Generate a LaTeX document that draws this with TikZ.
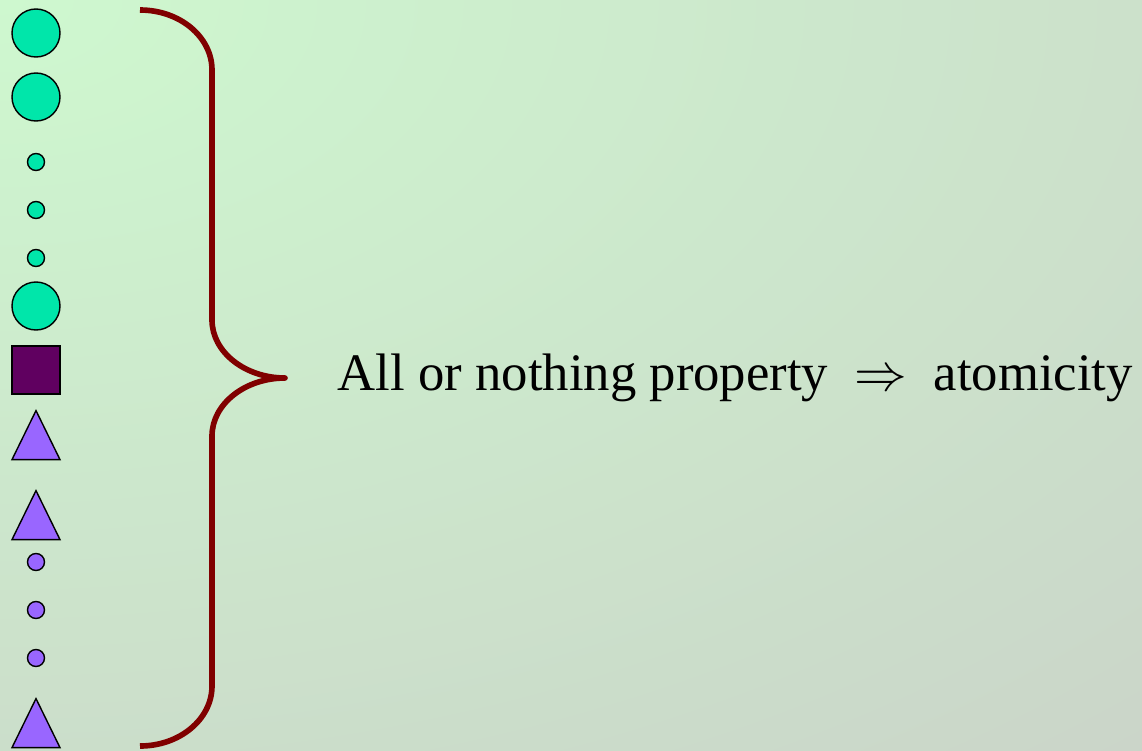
\RequirePackage{fix-cm}
\documentclass[tikz,border=0pt]{standalone}
\usepackage{fontspec}
\setmainfont{Liberation Serif}
\usetikzlibrary{positioning,shapes.geometric}
\definecolor{BgGreen}{HTML}{CEF8CF}
\definecolor{BgGrey}{HTML}{CAD0C8}
\definecolor{DotTeal}{HTML}{00E6AA}
\definecolor{BoxPlum}{HTML}{600060}
\definecolor{TriViolet}{HTML}{9966FF}
\definecolor{BraceRed}{HTML}{800000}

\begin{document}
\begin{tikzpicture}[
    x=0.2mm,y=-0.2mm,
    every node/.style={
      draw=black,
      line width=0.8pt,
      inner sep=0pt
    },
    bigdot/.style={circle,fill=DotTeal,minimum size=9.6mm},
    tealdot/.style={circle,fill=DotTeal,minimum size=3.4mm},
    violetdot/.style={circle,fill=TriViolet,minimum size=3.4mm},
    plumbox/.style={rectangle,fill=BoxPlum,minimum size=9.6mm},
    violettri/.style={
      isosceles triangle,
      shape border rotate=90,
      isosceles triangle apex angle=52,
      isosceles triangle stretches,
      minimum width=9.6mm,
      minimum height=9.8mm,
      fill=TriViolet,
      anchor=apex
    },
    brace/.style={BraceRed,line width=3.2pt,line join=round}
  ]
    % background
    \useasboundingbox (0,0) rectangle (1142,750);
    \begin{scope}
      \clip (0,0) rectangle (1142,750);
      \shade[inner color=BgGreen,outer color=BgGrey]
        (0,0) ellipse [x radius=1950,y radius=1150];
    \end{scope}

    % left column
    \node[bigdot] (c1) at (36,33) {};
    \node[bigdot] (c2) at (36,97) {};
    \node[tealdot] (d1) at (36,162) {};
    \node[tealdot] (d2) at (36,210) {};
    \node[tealdot] (d3) at (36,258) {};
    \node[bigdot] (c3) at (36,306) {};
    \node[plumbox] (sq) at (36,370) {};
    \node[violettri] (t1) at (36,409) {};
    \node[violettri] (t2) at (36,489) {};
    \node[violetdot] (p1) at (36,562) {};
    \node[violetdot] (p2) at (36,610) {};
    \node[violetdot] (p3) at (36,658) {};
    \node[violettri] (t3) at (36,697) {};

    % brace
    \coordinate (top) at (140,10);
    \coordinate (tip) at (285,378);
    \coordinate (bottom) at (140,746);
    \draw[brace] (top) .. controls (180,10) and (212,37) .. (212,70)
      -- (212,320) .. controls (212,352) and (245,378) .. (tip)
      .. controls (245,378) and (212,404) .. (212,436)
      -- (212,686) .. controls (212,719) and (180,746) .. (bottom);

    \node[draw=none,right=1.04cm of tip,font=\fontsize{30}{36}\selectfont] (prop)
      {All or nothing property\ \ $\Rightarrow$\ \ atomicity};
  \end{tikzpicture}
\end{document}
